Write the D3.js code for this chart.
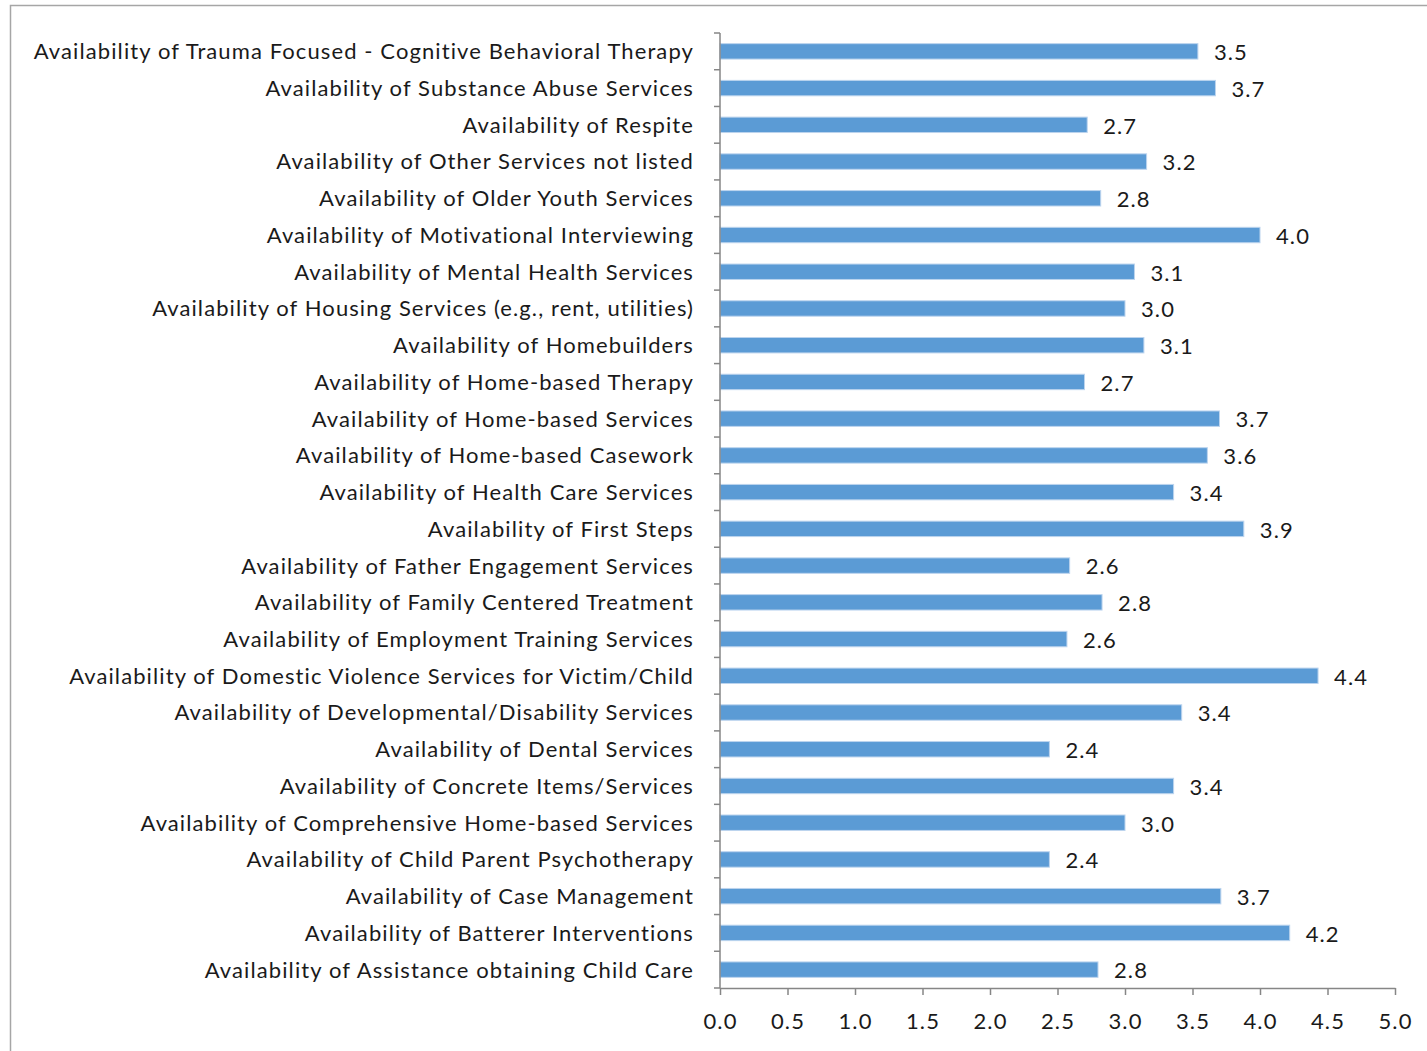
<!DOCTYPE html>
<html>
<head>
<meta charset="utf-8">
<script src="https://cdn.jsdelivr.net/npm/d3@7"></script>
<style>
  body { margin: 0; background: #fff; }
  svg text { font-family: Lato, "Open Sans", sans-serif; fill: #1a1a1a; letter-spacing: 1.1px; }
</style>
</head>
<body>
<svg width="1427" height="1051"></svg>
<script>
// categories top to bottom, as they appear in the chart
var categories = [
  "Availability of Trauma Focused - Cognitive Behavioral Therapy",
  "Availability of Substance Abuse Services",
  "Availability of Respite",
  "Availability of Other Services not listed",
  "Availability of Older Youth Services",
  "Availability of Motivational Interviewing",
  "Availability of Mental Health Services",
  "Availability of Housing Services (e.g., rent, utilities)",
  "Availability of Homebuilders",
  "Availability of Home-based Therapy",
  "Availability of Home-based Services",
  "Availability of Home-based Casework",
  "Availability of Health Care Services",
  "Availability of First Steps",
  "Availability of Father Engagement Services",
  "Availability of Family Centered Treatment",
  "Availability of Employment Training Services",
  "Availability of Domestic Violence Services for Victim/Child",
  "Availability of Developmental/Disability Services",
  "Availability of Dental Services",
  "Availability of Concrete Items/Services",
  "Availability of Comprehensive Home-based Services",
  "Availability of Child Parent Psychotherapy",
  "Availability of Case Management",
  "Availability of Batterer Interventions",
  "Availability of Assistance obtaining Child Care"
];
var values = [3.54, 3.67, 2.72, 3.16, 2.82, 4.0, 3.07, 3.0, 3.14, 2.70, 3.70, 3.61, 3.36,
              3.88, 2.59, 2.83, 2.57, 4.43, 3.42, 2.44, 3.36, 3.0, 2.44, 3.71, 4.22, 2.80];
var xTicks = [0, 0.5, 1, 1.5, 2, 2.5, 3, 3.5, 4, 4.5, 5];

var data = categories.map(function(c, i) { return {name: c, value: values[i]}; });

var svg = d3.select("svg");
var fmt = d3.format(".1f");

// outer frame
svg.append("rect")
    .attr("x", 10.5).attr("y", 5.5)
    .attr("width", 1500).attr("height", 1200)
    .attr("fill", "none").attr("stroke", "#a6a6a6").attr("stroke-width", 1.5);

var x = d3.scaleLinear().domain([0, 5]).range([720, 1395]);
var y = d3.scaleBand().domain(categories).range([33, 988]).paddingInner(0.58).paddingOuter(0.29);

// bars
svg.append("g").selectAll("rect")
    .data(data)
  .enter().append("rect")
    .attr("x", x(0))
    .attr("y", function(d) { return y(d.name); })
    .attr("width", function(d) { return x(d.value) - x(0); })
    .attr("height", y.bandwidth())
    .attr("fill", "#5b9bd5")
    .attr("stroke", "#bcd4ee").attr("stroke-width", 1);

// value labels
svg.append("g").selectAll("text")
    .data(data)
  .enter().append("text")
    .attr("x", function(d) { return x(d.value) + 16; })
    .attr("y", function(d) { return y(d.name) + y.bandwidth() / 2; })
    .attr("dy", "0.4em")
    .style("font-size", "22px")
    .text(function(d) { return fmt(d.value); });

// category axis
var yAxis = svg.append("g")
    .attr("transform", "translate(" + x(0) + ",0)");
yAxis.append("line")
    .attr("x1", 0).attr("x2", 0).attr("y1", 33).attr("y2", 988)
    .attr("stroke", "#868686").attr("stroke-width", 1.5);
var step = (988 - 33) / categories.length;
yAxis.selectAll(".tk")
    .data(d3.range(categories.length + 1))
  .enter().append("line")
    .attr("x1", -6).attr("x2", 0)
    .attr("y1", function(i) { return 33 + i * step; })
    .attr("y2", function(i) { return 33 + i * step; })
    .attr("stroke", "#868686").attr("stroke-width", 1.5);
yAxis.selectAll("text")
    .data(data)
  .enter().append("text")
    .attr("x", -26)
    .attr("y", function(d) { return y(d.name) + y.bandwidth() / 2; })
    .attr("dy", "0.36em")
    .attr("text-anchor", "end")
    .style("font-size", "22px")
    .text(function(d) { return d.name; });

// value axis
var xAxis = svg.append("g")
    .attr("transform", "translate(0,988)")
    .call(d3.axisBottom(x).tickValues(xTicks).tickSize(7).tickSizeOuter(0).tickPadding(18).tickFormat(fmt));
xAxis.select(".domain").attr("stroke", "#868686").attr("stroke-width", 1.5);
xAxis.selectAll(".tick line").attr("stroke", "#868686").attr("stroke-width", 1.5);
xAxis.selectAll(".tick text").style("font-size", "22px").attr("fill", "#1a1a1a");
</script>
</body>
</html>
